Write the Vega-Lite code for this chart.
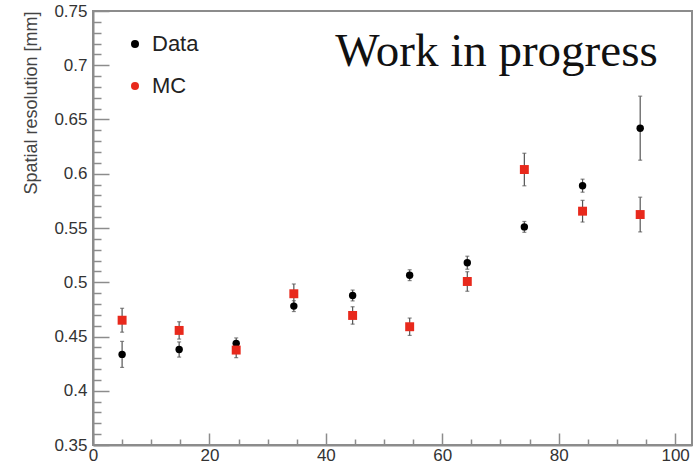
{
  "$schema": "https://vega.github.io/schema/vega-lite/v6.json",
  "width": 599,
  "height": 434,
  "autosize": {"type": "none"},
  "padding": {"left": 93, "top": 11, "right": 8, "bottom": 21},
  "background": "white",
  "config": {
    "view": {"stroke": "#8c8c8c", "strokeWidth": 2},
    "font": "Liberation Sans",
    "axis": {"grid": false}
  },
  "datasets": {
    "pts": [
      {"x": 5.0, "y": 0.4335, "err": 0.012, "series": "Data"},
      {"x": 14.8, "y": 0.438, "err": 0.007, "series": "Data"},
      {"x": 24.6, "y": 0.4437, "err": 0.005, "series": "Data"},
      {"x": 34.5, "y": 0.478, "err": 0.005, "series": "Data"},
      {"x": 44.6, "y": 0.4878, "err": 0.005, "series": "Data"},
      {"x": 54.4, "y": 0.5065, "err": 0.005, "series": "Data"},
      {"x": 64.3, "y": 0.518, "err": 0.006, "series": "Data"},
      {"x": 74.1, "y": 0.551, "err": 0.005, "series": "Data"},
      {"x": 84.1, "y": 0.589, "err": 0.006, "series": "Data"},
      {"x": 94.0, "y": 0.642, "err": 0.0295, "series": "Data"},
      {"x": 5.0, "y": 0.465, "err": 0.011, "series": "MC"},
      {"x": 14.8, "y": 0.4556, "err": 0.008, "series": "MC"},
      {"x": 24.6, "y": 0.4375, "err": 0.007, "series": "MC"},
      {"x": 34.5, "y": 0.4894, "err": 0.009, "series": "MC"},
      {"x": 44.6, "y": 0.4694, "err": 0.008, "series": "MC"},
      {"x": 54.4, "y": 0.459, "err": 0.008, "series": "MC"},
      {"x": 64.3, "y": 0.5007, "err": 0.009, "series": "MC"},
      {"x": 74.1, "y": 0.6039, "err": 0.015, "series": "MC"},
      {"x": 84.1, "y": 0.5655, "err": 0.01, "series": "MC"},
      {"x": 94.0, "y": 0.5624, "err": 0.016, "series": "MC"}
    ],
    "note": [{"label": "Work in progress", "x": 41.6, "y": 0.699}]
  },
  "layer": [
    {
      "data": {"name": "pts"},
      "mark": {"type": "errorbar", "color": "#555555", "thickness": 1.2, "ticks": {"size": 4, "thickness": 1.2, "color": "#555555"}},
      "encoding": {
        "x": {"field": "x", "type": "quantitative",
          "scale": {"domain": [0, 102.9], "nice": false, "zero": false},
          "axis": {"orient": "bottom", "title": null, "values": [0, 20, 40, 60, 80, 100], "ticks": false, "domainColor": "#8c8c8c", "domainWidth": 2, "labelFontSize": 17, "labelColor": "#333333", "labelPadding": 2, "labelFlush": false}},
        "y": {"field": "y", "type": "quantitative",
          "scale": {"domain": [0.35, 0.75], "nice": false, "zero": false},
          "axis": {"orient": "left", "title": "Spatial resolution [mm]", "values": [0.35, 0.4, 0.45, 0.5, 0.55, 0.6, 0.65, 0.7, 0.75], "format": "~g", "ticks": false, "domainColor": "#8c8c8c", "domainWidth": 2, "labelFontSize": 17, "labelColor": "#333333", "labelPadding": 6, "labelFlush": false,
            "titleFontSize": 18, "titleFontWeight": "normal", "titleColor": "#444444", "titleAnchor": "end", "titleAlign": "right", "titleBaseline": "middle", "titleX": -62, "titleY": 0, "titleAngle": -90}},
        "yError": {"field": "err"},
        "detail": {"field": "series"}
      }
    },
    {
      "data": {"name": "pts"},
      "transform": [{"filter": "datum.series === 'Data'"}],
      "mark": {"type": "point", "shape": "circle", "filled": true, "size": 55, "opacity": 1, "strokeWidth": 0},
      "encoding": {
        "x": {"field": "x", "type": "quantitative",
          "scale": {"domain": [0, 102.9], "nice": false, "zero": false},
          "axis": {"orient": "bottom", "title": null, "values": [0, 20, 40, 60, 80, 100], "labels": false, "domain": false, "tickSize": -12, "tickWidth": 1.5, "tickColor": "#8c8c8c"}},
        "y": {"field": "y", "type": "quantitative",
          "scale": {"domain": [0.35, 0.75], "nice": false, "zero": false},
          "axis": {"orient": "left", "title": null, "values": [0.35, 0.4, 0.45, 0.5, 0.55, 0.6, 0.65, 0.7, 0.75], "labels": false, "domain": false, "tickSize": -16, "tickWidth": 1.5, "tickColor": "#8c8c8c"}},
        "color": {"field": "series", "type": "nominal", "scale": {"domain": ["Data", "MC"], "range": ["#000000", "#e8291c"]},
          "legend": {"title": null, "orient": "none", "legendX": 31, "legendY": 22, "labelFontSize": 22, "labelColor": "#222222", "symbolSize": 64, "rowPadding": 20, "labelOffset": 6, "symbolStrokeWidth": 0}}
      }
    },
    {
      "data": {"name": "pts"},
      "transform": [{"filter": "datum.series === 'MC'"}],
      "mark": {"type": "point", "shape": "square", "filled": true, "size": 80, "opacity": 1, "strokeWidth": 0},
      "encoding": {
        "x": {"field": "x", "type": "quantitative",
          "scale": {"domain": [0, 102.9], "nice": false, "zero": false},
          "axis": {"orient": "bottom", "title": null, "values": [5, 10, 15, 25, 30, 35, 45, 50, 55, 65, 70, 75, 85, 90, 95], "labels": false, "domain": false, "tickSize": -6, "tickWidth": 1.5, "tickColor": "#8c8c8c"}},
        "y": {"field": "y", "type": "quantitative",
          "scale": {"domain": [0.35, 0.75], "nice": false, "zero": false},
          "axis": {"orient": "left", "title": null, "values": [0.36, 0.37, 0.38, 0.39, 0.41, 0.42, 0.43, 0.44, 0.46, 0.47, 0.48, 0.49, 0.51, 0.52, 0.53, 0.54, 0.56, 0.57, 0.58, 0.59, 0.61, 0.62, 0.63, 0.64, 0.66, 0.67, 0.68, 0.69, 0.71, 0.72, 0.73, 0.74], "labels": false, "domain": false, "tickSize": -8, "tickWidth": 1.5, "tickColor": "#8c8c8c"}},
        "color": {"field": "series", "type": "nominal", "scale": {"domain": ["Data", "MC"], "range": ["#000000", "#e8291c"]}, "legend": null}
      }
    },
    {
      "data": {"name": "note"},
      "mark": {"type": "text", "font": "Liberation Serif", "fontSize": 47, "align": "left", "baseline": "alphabetic", "color": "#111111"},
      "encoding": {
        "x": {"field": "x", "type": "quantitative", "scale": {"domain": [0, 102.9], "nice": false, "zero": false}, "axis": null},
        "y": {"field": "y", "type": "quantitative", "scale": {"domain": [0.35, 0.75], "nice": false, "zero": false}, "axis": null},
        "text": {"field": "label"}
      }
    }
  ],
  "resolve": {"axis": {"x": "independent", "y": "independent"}}
}
